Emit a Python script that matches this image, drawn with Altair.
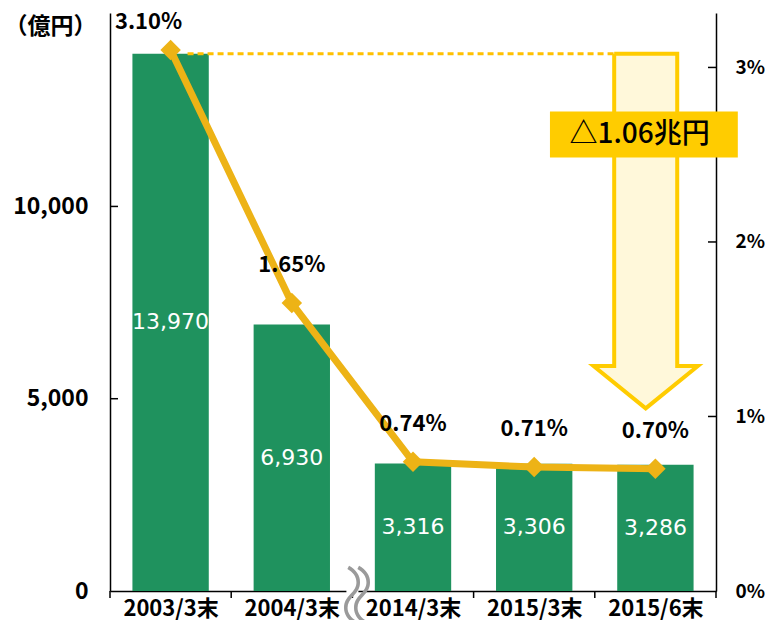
import json
import altair as alt
import pandas as pd

# ---- data ----
categories = ["2003/3末", "2004/3末", "2014/3末", "2015/3末", "2015/6末"]
amounts = [13970, 6930, 3316, 3306, 3286]          # 億円 (bars)
rates = [3.10, 1.65, 0.74, 0.71, 0.70]             # % (line)
bar_labels = ["13,970", "6,930", "3,316", "3,306", "3,286"]
rate_labels = ["3.10%", "1.65%", "0.74%", "0.71%", "0.70%"]
left_ticks = [0, 5000, 10000]
right_ticks = [0, 1, 2, 3]
reduction_label = "△1.06兆円"
y_unit_label = "（億円）"

GREEN = "#1F925E"
GOLD = "#EDB316"
YELLOW = "#FFCC00"
FONT = "Noto Sans CJK JP"

W, H = 606, 578
n = len(categories)

df = pd.DataFrame({
    "cat": categories,
    "amount": amounts,
    "rate": rates,
    "blabel": bar_labels,
    "rlabel": rate_labels,
})
df["idx"] = range(n)
df["xc"] = df["idx"] + 0.5
df["x0"] = df["xc"] - 0.315
df["x1"] = df["xc"] + 0.315
df["half"] = df["amount"] / 2
df["zero"] = 0

xsc = alt.Scale(domain=[0, n], nice=False, zero=False)
ysc = alt.Scale(domain=[0, 15030], nice=False, zero=True)
rsc = alt.Scale(domain=[0, 3.312], nice=False, zero=True)

label_expr = json.dumps(categories, ensure_ascii=False) + "[floor(datum.value)]"
x_axis = alt.Axis(values=[i + 0.5 for i in range(n)], labelExpr=label_expr, tickSize=0,
                  labelPadding=7, labelFontSize=22, labelFont=FONT, labelFontWeight="bold",
                  labelColor="black", domainColor="black", domainWidth=1.5, grid=False, title=None)
y_axis = alt.Axis(
    values=left_ticks, labelExpr="format(datum.value, ',')", tickSize=0, labelPadding=22,
    labelFontSize=23, labelFont=FONT, labelFontWeight="bold", labelColor="black",
    domainColor="black", domainWidth=1.5, grid=False, title=y_unit_label, titleAngle=0,
    titleX=-60, titleY=13, titleAlign="center", titleBaseline="middle", titleFontSize=23,
    titleFont=FONT, titleFontWeight="bold", titleColor="black")
r_axis = alt.Axis(
    orient="right", values=right_ticks, labelExpr="datum.value + '%'", tickSize=0,
    labelPadding=19, labelFontSize=19, labelFont=FONT, labelFontWeight="bold",
    labelColor="black", domainColor="black", domainWidth=1.5, grid=False, title=None)


def X(f):
    return alt.X(f, scale=xsc, axis=x_axis)


def Y(f):
    return alt.Y(f, scale=ysc, axis=y_axis)


def R(f):
    return alt.Y(f, scale=rsc, axis=r_axis)


base = alt.Chart(df)

bars = base.mark_bar(color=GREEN).encode(x=X("x0:Q"), x2="x1:Q", y=Y("amount:Q"), y2="zero:Q")

bar_text = base.mark_text(color="white", fontSize=22, font="DejaVu Sans").encode(
    x=X("xc:Q"), y=Y("half:Q"), text="blabel:N")

lt = alt.Chart(pd.DataFrame({"v": [v for v in left_ticks if v > 0]})).mark_rule(
    color="black", strokeWidth=1.5).encode(x=alt.value(0), x2=alt.value(8), y=Y("v:Q"))

xt = alt.Chart(pd.DataFrame({"b": list(range(n + 1))})).mark_rule(
    color="black", strokeWidth=1.5).encode(x=X("b:Q"), y=alt.value(H), y2=alt.value(H + 7))

# annotation: dotted level line, hollow arrow, label box (anchored to the data)
cx = (n - 1) + 0.42
sw, hw = 0.26, 0.43
top = amounts[0]
neck, tip = 5850, 4750
arrow_df = pd.DataFrame({
    "ax": [cx - sw, cx + sw, cx + sw, cx + hw, cx, cx - hw, cx - sw, cx - sw],
    "ay": [top, top, neck, neck, tip, neck, neck, top],
    "o": list(range(8)),
})
arrow = alt.Chart(arrow_df).mark_line(
    fill="#FFF8DA", stroke=YELLOW, strokeWidth=4, interpolate="linear", strokeJoin="miter").encode(
    x=X("ax:Q"), y=Y("ay:Q"), order=alt.Order("o:Q"))

dot_df = pd.DataFrame({"dx0": [0.5 + 0.14], "dx1": [cx - sw], "dy": [top]})
dotted = alt.Chart(dot_df).mark_rule(color="#FFC000", strokeWidth=3, strokeDash=[6, 4]).encode(
    x=X("dx0:Q"), x2="dx1:Q", y=Y("dy:Q"))

box_df = pd.DataFrame({"bx0": [cx - 0.79], "bx1": [cx + 0.76], "by0": [12470], "by1": [11270],
                       "tx": [cx - 0.05], "ty": [11870], "t": [reduction_label]})
box = alt.Chart(box_df).mark_rect(color=YELLOW).encode(
    x=X("bx0:Q"), x2="bx1:Q", y=Y("by0:Q"), y2="by1:Q")
box_text = alt.Chart(box_df).mark_text(fontSize=28, font=FONT, fontWeight=500, color="black").encode(
    x=X("tx:Q"), y=Y("ty:Q"), text="t:N")

# axis break sign between 2004/3末 and 2014/3末
brk_df = pd.DataFrame({"bx": [2.0], "by": [0], "t": ["〜"]})
brk_gap = alt.Chart(brk_df).mark_rect(color="white", xOffset=-6, x2Offset=6,
                                      yOffset=-3, y2Offset=3).encode(
    x=X("bx:Q"), x2="bx:Q", y=Y("by:Q"), y2="by:Q")
brk1 = alt.Chart(brk_df).mark_text(fontSize=64, fontWeight=300, color="#9A9A9A", angle=90,
                                   xOffset=-5, yOffset=4, font=FONT).encode(
    x=X("bx:Q"), y=Y("by:Q"), text="t:N")
brk2 = alt.Chart(brk_df).mark_text(fontSize=64, fontWeight=300, color="#9A9A9A", angle=90,
                                   xOffset=5, yOffset=4, font=FONT).encode(
    x=X("bx:Q"), y=Y("by:Q"), text="t:N")

left = alt.layer(bars, bar_text, lt, xt, dotted, arrow, box, box_text, brk_gap, brk1, brk2)

# ---- rate line (right axis) ----
line = base.mark_line(color=GOLD, strokeWidth=7).encode(x=X("xc:Q"), y=R("rate:Q"))
pts = base.mark_point(shape="diamond", filled=True, size=420, color=GOLD, opacity=1).encode(
    x=X("xc:Q"), y=R("rate:Q"))
lab_first = base.transform_filter("datum.idx == 0").mark_text(
    fontSize=22, font=FONT, fontWeight="bold", color="black", dx=-22, dy=-28).encode(
    x=X("xc:Q"), y=R("rate:Q"), text="rlabel:N")
lab_rest = base.transform_filter("datum.idx > 0").mark_text(
    fontSize=22, font=FONT, fontWeight="bold", color="black", dy=-38).encode(
    x=X("xc:Q"), y=R("rate:Q"), text="rlabel:N")
rt = alt.Chart(pd.DataFrame({"v": [v for v in right_ticks if v > 0]})).mark_rule(
    color="black", strokeWidth=1.5).encode(x=alt.value(W - 8), x2=alt.value(W), y=R("v:Q"))

right = alt.layer(line, pts, lab_first, lab_rest, rt)

chart = alt.layer(left, right).resolve_scale(y="independent").properties(
    width=W, height=H, autosize="none",
    padding={"left": 102, "top": 5, "right": 49, "bottom": 29},
    background="white",
).configure_view(stroke=None)

chart.save("out.html", embed_options={"renderer": "svg", "actions": False})
